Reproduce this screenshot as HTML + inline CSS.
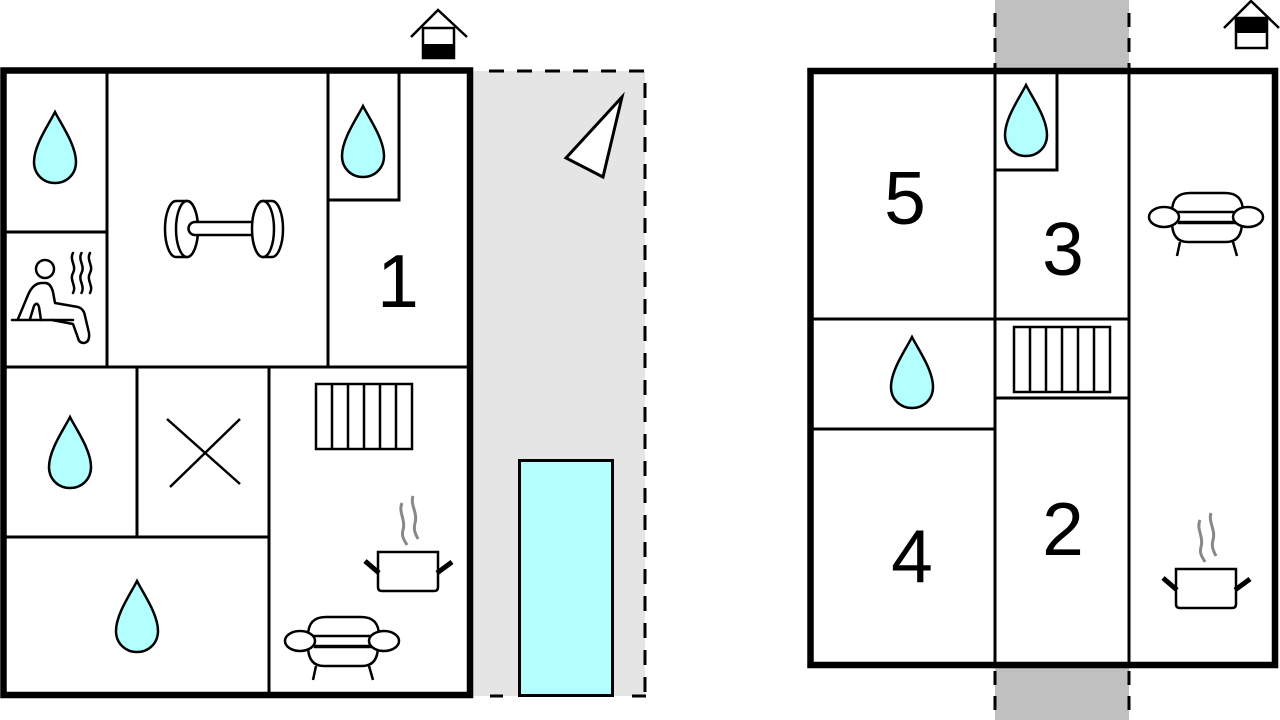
<!DOCTYPE html>
<html>
<head>
<meta charset="utf-8">
<style>
html,body{margin:0;padding:0;background:#fff;}
svg{display:block;}
text{font-family:"Liberation Sans",sans-serif;}
</style>
</head>
<body>
<svg width="1280" height="720" viewBox="0 0 1280 720" xmlns="http://www.w3.org/2000/svg">
<defs>
  <path id="drop" d="M21,0 C15,12 0,33 0,50 C0,62 9,71 21,71 C33,71 42,62 42,50 C42,33 27,12 21,0 Z" fill="#b3ffff" stroke="#000" stroke-width="2.5"/>
  <g id="stairs" fill="none" stroke="#000" stroke-width="2.5">
    <rect x="316" y="384" width="96" height="65"/>
    <line x1="332" y1="384" x2="332" y2="449"/>
    <line x1="348" y1="384" x2="348" y2="449"/>
    <line x1="364" y1="384" x2="364" y2="449"/>
    <line x1="380" y1="384" x2="380" y2="449"/>
    <line x1="396" y1="384" x2="396" y2="449"/>
  </g>
  <g id="pot">
    <path d="M402,503 C398,512 406,520 403,530 C401,537 405,541 407,545" fill="none" stroke="#888" stroke-width="3"/>
    <path d="M413,496 C410,505 418,513 415,523 C413,530 416,535 418,539" fill="none" stroke="#888" stroke-width="3"/>
    <path d="M378,552 L438,552 L438,587 Q438,591 434,591 L382,591 Q378,591 378,587 Z" fill="#fff" stroke="#000" stroke-width="2.5"/>
    <line x1="365" y1="561" x2="379" y2="573" stroke="#000" stroke-width="5"/>
    <line x1="437" y1="573" x2="452" y2="562" stroke="#000" stroke-width="5"/>
  </g>
  <g id="sofa" fill="#fff" stroke="#000" stroke-width="2.5">
    <path d="M1172,212 C1172,199 1178,193 1190,193 L1225,193 C1237,193 1243,199 1243,212 Z"/>
    <path d="M1172,222 C1172,236 1178,242 1188,242 L1226,242 C1236,242 1242,236 1242,222 Z"/>
    <line x1="1178" y1="223" x2="1236" y2="223"/>
    <ellipse cx="1164" cy="217" rx="15" ry="10"/>
    <ellipse cx="1248" cy="217" rx="15" ry="10"/>
    <line x1="1180" y1="242" x2="1177" y2="256"/>
    <line x1="1233" y1="242" x2="1237" y2="256"/>
  </g>
</defs>

<!-- LEFT: gray terrace area -->
<rect x="473" y="71" width="172" height="625" fill="#e5e5e5"/>
<line x1="489" y1="71" x2="645" y2="71" stroke="#000" stroke-width="3" stroke-dasharray="15 13"/>
<line x1="645" y1="71" x2="645" y2="696" stroke="#000" stroke-width="3" stroke-dasharray="15 12" stroke-dashoffset="-12"/>
<line x1="490" y1="696" x2="503" y2="696" stroke="#000" stroke-width="3"/>
<line x1="632" y1="696" x2="646" y2="696" stroke="#000" stroke-width="3"/>
<polygon points="622,97 566,158 603,177" fill="#fff" stroke="#000" stroke-width="3"/>
<rect x="519.5" y="460.5" width="93" height="235" fill="#b3ffff" stroke="#000" stroke-width="3"/>

<!-- LEFT building inner walls -->
<g stroke="#000" stroke-width="3" fill="none">
  <line x1="107" y1="70" x2="107" y2="367"/>
  <line x1="3" y1="232" x2="107" y2="232"/>
  <line x1="328" y1="70" x2="328" y2="367"/>
  <polyline points="328,200 399,200 399,70"/>
  <line x1="3" y1="367" x2="470" y2="367"/>
  <line x1="137" y1="367" x2="137" y2="537"/>
  <line x1="3" y1="537" x2="269" y2="537"/>
  <line x1="269" y1="367" x2="269" y2="695"/>
</g>
<rect x="3.5" y="70.5" width="466.5" height="624.5" fill="none" stroke="#000" stroke-width="6.5"/>

<!-- left house icon -->
<polyline points="411,37 438,10 467,37" fill="none" stroke="#000" stroke-width="2.5"/>
<rect x="423" y="28" width="31" height="30" fill="#fff" stroke="#000" stroke-width="2.5"/>
<rect x="423" y="44" width="31" height="14" fill="#000"/>

<!-- drops left -->
<use href="#drop" x="34" y="112"/>
<use href="#drop" x="342" y="106"/>
<use href="#drop" x="49" y="417"/>
<use href="#drop" x="116" y="581"/>

<!-- dumbbell -->
<g fill="#fff" stroke="#000" stroke-width="2.5">
  <path d="M176,201 L187,201 A11,28 0 0 1 187,257 L176,257 A11,28 0 0 1 176,201 Z"/>
  <ellipse cx="187" cy="229" rx="11" ry="28"/>
  <path d="M263,201 L272,201 A11,28 0 0 1 272,257 L263,257 A11,28 0 0 1 263,201 Z"/>
  <path d="M253,222 L195,222 A6.5,6.5 0 0 0 195,235 L253,235"/>
  <ellipse cx="263" cy="229" rx="11" ry="28"/>
</g>

<!-- sauna -->
<g fill="none" stroke="#000" stroke-width="2.5" stroke-linejoin="round" stroke-linecap="round">
  <circle cx="45" cy="269" r="9"/>
  <path d="M18,319 L28,295 Q33,283 42,283 L46,283 Q51,284 53,292 L55,303 L78,307 Q84,309 85,316 L89,333 Q90,342 84,343 Q79,343 78,338 L73,324 L52,320"/>
  <path d="M30,319 L34,306 Q37,301 39,307 L41,320"/>
  <line x1="12" y1="320" x2="73" y2="320"/>
  <path d="M73,253 C69,260 77,266 73,273 C69,280 77,286 73,293"/>
  <path d="M81.5,253 C77.5,260 85.5,266 81.5,273 C77.5,280 85.5,286 81.5,293"/>
  <path d="M90,253 C86,260 94,266 90,273 C86,280 94,286 90,293"/>
</g>

<!-- X -->
<g stroke="#000" stroke-width="2.5">
  <line x1="167" y1="419" x2="240" y2="484"/>
  <line x1="170" y1="487" x2="240" y2="419"/>
</g>

<use href="#stairs"/>
<use href="#pot"/>
<use href="#sofa" transform="translate(-864,424)"/>

<text x="398" y="307" font-size="75" text-anchor="middle" fill="#000">1</text>

<!-- RIGHT: gray strips -->
<rect x="995" y="0" width="134" height="70" fill="#c0c0c0"/>
<rect x="995" y="665" width="134" height="55" fill="#c0c0c0"/>
<g stroke="#000" stroke-width="3" stroke-dasharray="14 11">
  <line x1="995" y1="13" x2="995" y2="70"/>
  <line x1="1129" y1="13" x2="1129" y2="70"/>
  <line x1="995" y1="671" x2="995" y2="720"/>
  <line x1="1129" y1="671" x2="1129" y2="720"/>
</g>

<!-- right house icon -->
<polyline points="1224,28 1251,1 1279,28" fill="none" stroke="#000" stroke-width="2.5"/>
<rect x="1236" y="18" width="31" height="30" fill="#fff" stroke="#000" stroke-width="2.5"/>
<rect x="1236" y="18" width="31" height="15" fill="#000"/>

<!-- RIGHT building walls -->
<g stroke="#000" stroke-width="3" fill="none">
  <line x1="995" y1="70" x2="995" y2="665"/>
  <line x1="1129" y1="70" x2="1129" y2="665"/>
  <polyline points="995,170 1057,170 1057,70"/>
  <line x1="810" y1="319" x2="1129" y2="319"/>
  <line x1="995" y1="398" x2="1129" y2="398"/>
  <line x1="810" y1="429" x2="995" y2="429"/>
</g>
<rect x="810.5" y="71" width="464.5" height="594" fill="none" stroke="#000" stroke-width="6.5"/>

<use href="#drop" x="1005" y="85"/>
<use href="#drop" x="891" y="337"/>
<use href="#stairs" transform="translate(698,-57)"/>
<use href="#pot" transform="translate(798,17)"/>
<use href="#sofa"/>

<text x="905" y="224" font-size="75" text-anchor="middle" fill="#000">5</text>
<text x="1063" y="275" font-size="75" text-anchor="middle" fill="#000">3</text>
<text x="912" y="582" font-size="75" text-anchor="middle" fill="#000">4</text>
<text x="1063" y="555" font-size="75" text-anchor="middle" fill="#000">2</text>
</svg>
</body>
</html>
